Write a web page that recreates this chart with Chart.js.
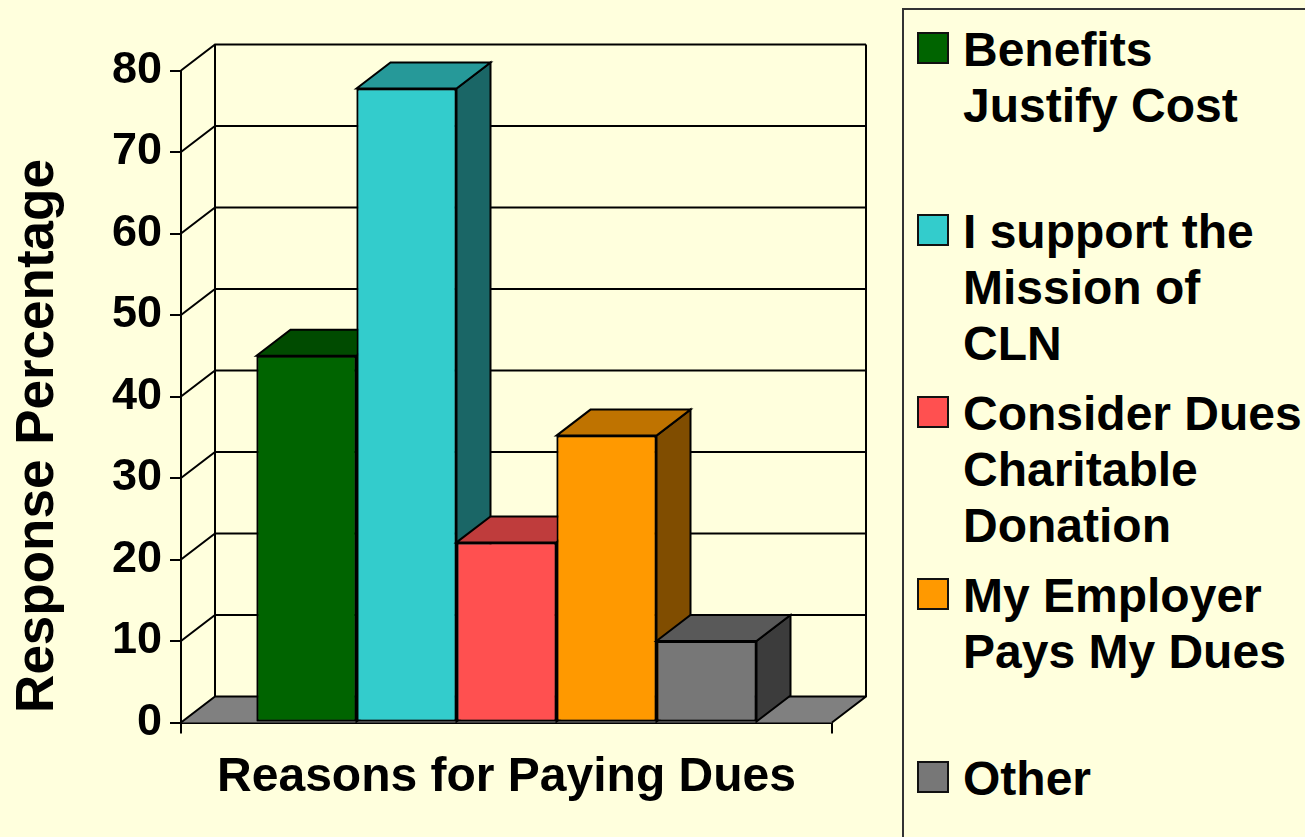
<!DOCTYPE html>
<html>
<head>
<meta charset="utf-8">
<title>Reasons for Paying Dues</title>
<script src="https://cdn.jsdelivr.net/npm/chart.js@4"></script>
<style>
html,body{margin:0;padding:0;background:#FFFFDD;overflow:hidden;height:100%;}
body{font-family:"Liberation Sans",Arial,sans-serif;font-weight:bold;color:#000;}
#chart{position:absolute;left:0;top:0;}
#legend{position:absolute;left:902px;top:8px;width:500px;height:900px;box-sizing:border-box;border:2px solid #333;}
.item{position:absolute;left:59px;font-size:48px;line-height:56px;white-space:pre;}
.swatch{position:absolute;left:-46px;top:10px;width:28px;height:28px;border:2px solid #111;}
</style>
</head>
<body>
<canvas id="chart" width="900" height="837"></canvas>
<div id="legend"></div>
<script>
// data
const categories=['Reasons for Paying Dues'];
const reasons=['Benefits\nJustify Cost','I support the\nMission of\nCLN','Consider Dues\nCharitable\nDonation','My Employer\nPays My Dues','Other'];
const responses=[45,77.8,22.1,35.2,10];
const yTicks=[0,10,20,30,40,50,60,70,80];

const colors=['#006400','#33CCCC','#FF5050','#FF9900','#777777'];
const topColors=['#004B00','#269999','#BF3C3C','#BF7300','#595959'];
const sideColors=['#003200','#1A6666','#802828','#804D00','#3C3C3C'];

// depth of the fake 3d box
const dx=34, dy=26;

function poly(ctx,pts,fill){
    ctx.beginPath();
    pts.forEach((p,i)=>i?ctx.lineTo(p[0],p[1]):ctx.moveTo(p[0],p[1]));
    ctx.closePath();
    if(fill){ ctx.fillStyle=fill; ctx.fill(); }
    ctx.stroke();
}

const box3d={
    id:'box3d',
    beforeDatasetsDraw(chart){
        const ctx=chart.ctx, a=chart.chartArea, y=chart.scales.y;
        ctx.save();
        ctx.strokeStyle='#000';
        ctx.lineWidth=2;
        // floor
        ctx.fillStyle='#808080';
        ctx.beginPath();
        ctx.moveTo(a.left,a.bottom);
        ctx.lineTo(a.left+dx,a.bottom-dy);
        ctx.lineTo(a.right+dx,a.bottom-dy);
        ctx.lineTo(a.right,a.bottom);
        ctx.closePath();
        ctx.fill();
        // side and back wall lines
        ctx.beginPath();
        yTicks.forEach(v=>{
            const py=y.getPixelForValue(v);
            ctx.moveTo(a.left,py);
            ctx.lineTo(a.left+dx,py-dy);
            ctx.lineTo(a.right+dx,py-dy);
        });
        ctx.moveTo(a.left+dx,a.top-dy);
        ctx.lineTo(a.left+dx,a.bottom-dy);
        ctx.moveTo(a.right+dx,a.top-dy);
        ctx.lineTo(a.right+dx,a.bottom-dy);
        ctx.lineTo(a.right,a.bottom);
        ctx.stroke();
        ctx.restore();
    },
    afterDatasetsDraw(chart){
        // chart.js paints the last dataset first, here the bars need left to right
        const ctx=chart.ctx;
        ctx.save();
        ctx.strokeStyle='#000';
        ctx.lineWidth=2;
        reasons.forEach((r,i)=>{
            const b=chart.getDatasetMeta(i).data[0];
            const left=b.x-b.width/2, right=b.x+b.width/2;
            poly(ctx,[[right,b.y],[right+dx,b.y-dy],[right+dx,b.base-dy],[right,b.base]],sideColors[i]);
            poly(ctx,[[left,b.y],[left+dx,b.y-dy],[right+dx,b.y-dy],[right,b.y]],topColors[i]);
            b.draw(ctx);
        });
        ctx.restore();
    },
    afterDraw(chart){
        const ctx=chart.ctx;
        ctx.save();
        ctx.translate(53,436);
        ctx.rotate(-Math.PI/2);
        ctx.fillStyle='#000';
        ctx.font='bold 53px "Liberation Sans"';
        ctx.textAlign='center';
        ctx.textBaseline='alphabetic';
        ctx.fillText('Response Percentage',0,0);
        ctx.restore();
    }
};

new Chart(document.getElementById('chart'),{
    type:'bar',
    data:{
        labels:categories,
        datasets:reasons.map((r,i)=>({
            label:r.replace(/\n/g,' '),
            data:[responses[i]],
            backgroundColor:colors[i],
            borderColor:'#000',
            borderWidth:2,
            borderSkipped:false,
            categoryPercentage:500/651,
            barPercentage:1
        }))
    },
    plugins:[box3d],
    options:{
        responsive:false,
        animation:false,
        events:[],
        layout:{padding:{left:0,top:70.5,right:68,bottom:0}},
        plugins:{legend:{display:false},tooltip:{enabled:false},title:{display:false}},
        scales:{
            x:{
                offset:true,
                afterFit(s){ s.height=114.5; },
                grid:{display:true,offset:true,drawOnChartArea:false,color:'#000',lineWidth:2,tickLength:11},
                border:{color:'#000',width:2},
                ticks:{display:false},
                title:{display:true,text:categories[0],color:'#000',font:{family:'Liberation Sans',size:48,weight:'bold'},padding:{top:0,bottom:30}}
            },
            y:{
                min:0,max:80,
                afterFit(s){ s.width=181; },
                afterBuildTicks(s){ s.ticks=yTicks.map(v=>({value:v})); },
                grid:{drawOnChartArea:false,color:'#000',lineWidth:2,tickLength:11},
                border:{color:'#000',width:2},
                ticks:{color:'#000',padding:8,font:{family:'Liberation Sans',size:45,weight:'bold'}}
            }
        }
    }
});

// legend on the right
const legend=document.getElementById('legend');
reasons.forEach((r,i)=>{
    let item=document.createElement('div');
    item.className='item';
    item.style.top=(11.5+i*182.3)+'px';
    item.textContent=r;
    let sw=document.createElement('span');
    sw.className='swatch';
    sw.style.background=colors[i];
    item.appendChild(sw);
    legend.appendChild(item);
});
</script>
</body>
</html>
